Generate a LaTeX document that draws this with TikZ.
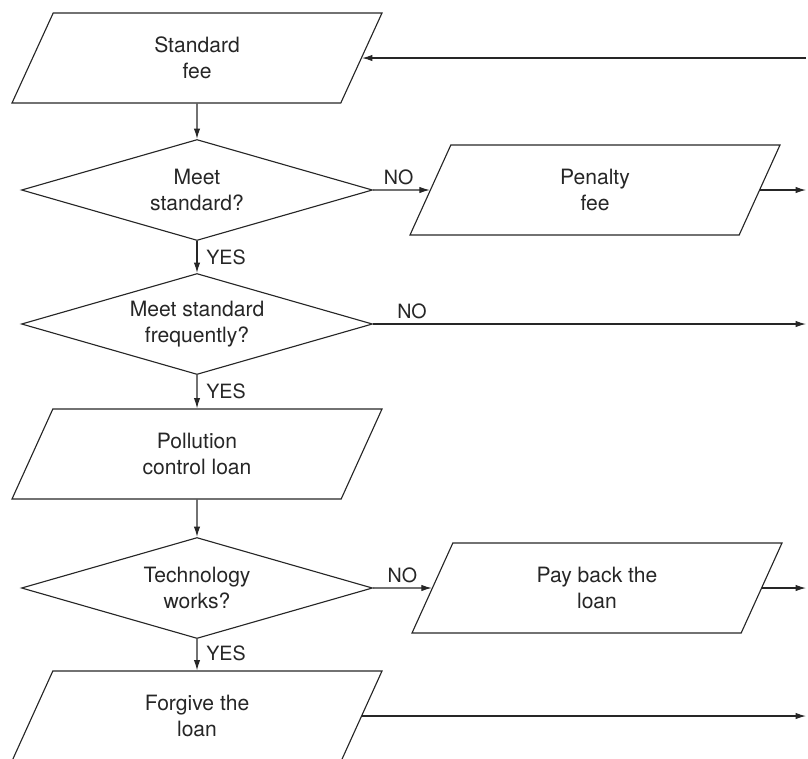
\documentclass[tikz,border=0pt]{standalone}
\usepackage{fontspec}
\setmainfont{TeX Gyre Heros}
\usetikzlibrary{arrows.meta,shapes.geometric}
\begin{document}
\begin{tikzpicture}[line width=.8pt,color=black!85,>={Latex[length=2.6mm,width=1.6mm]},
io/.style={draw,trapezium,trapezium left angle=45.6,trapezium right angle=134.4,trapezium stretches body,minimum width=9.25cm,minimum height=2.25cm,inner sep=0pt,align=center,font=\fontsize{15}{18.5}\selectfont},
dec/.style={draw,diamond,aspect=3.475,minimum width=8.775cm,minimum height=2.525cm,inner sep=0pt,align=center,font=\fontsize{15}{18.5}\selectfont},
lbl/.style={font=\fontsize{14}{17}\selectfont}]
\useasboundingbox(0,0)rectangle(20.2,-18.95);
\coordinate(rt)at(20.15,0);
\node[io](sfee)at(4.925,-1.45){Standard\\fee};
\node[dec](meet)at(4.925,-4.75){Meet\\standard?};
\node[io](penalty)at(14.875,-4.75){Penalty\\fee};
\node[dec](often)at(4.925,-8.1){Meet standard\\frequently?};
\node[io](loan)at(4.925,-11.35){Pollution\\control loan};
\node[dec](tech)at(4.925,-14.7){Technology\\works?};
\node[io](payback)at(14.925,-14.7){Pay back the\\loan};
\node[io](forgive)at(4.925,-17.9){Forgive the\\loan};
\draw[->](sfee)--(meet);\draw[->](meet)--node[lbl,right=1mm,pos=.5]{YES}(often);\draw[->](often)--node[lbl,right=1mm,pos=.5]{YES}(loan);
\draw[->](loan)--(tech);\draw[->](tech)--node[lbl,right=1mm,pos=.45]{YES}(forgive);
\draw[->](meet.east)--node[lbl,above,pos=.45]{NO}(penalty.west);\draw[->](tech.east)--node[lbl,above,pos=.5]{NO}(payback.west);
\draw[->](often.east)--node[lbl,above,pos=.09]{NO}(often.east-|rt);
\draw[<-](sfee.east)--(sfee.east-|rt);\draw[->](penalty.east)--(penalty.east-|rt);\draw[->](payback.east)--(payback.east-|rt);\draw[->](forgive.east)--(forgive.east-|rt);
\end{tikzpicture}
\end{document}
